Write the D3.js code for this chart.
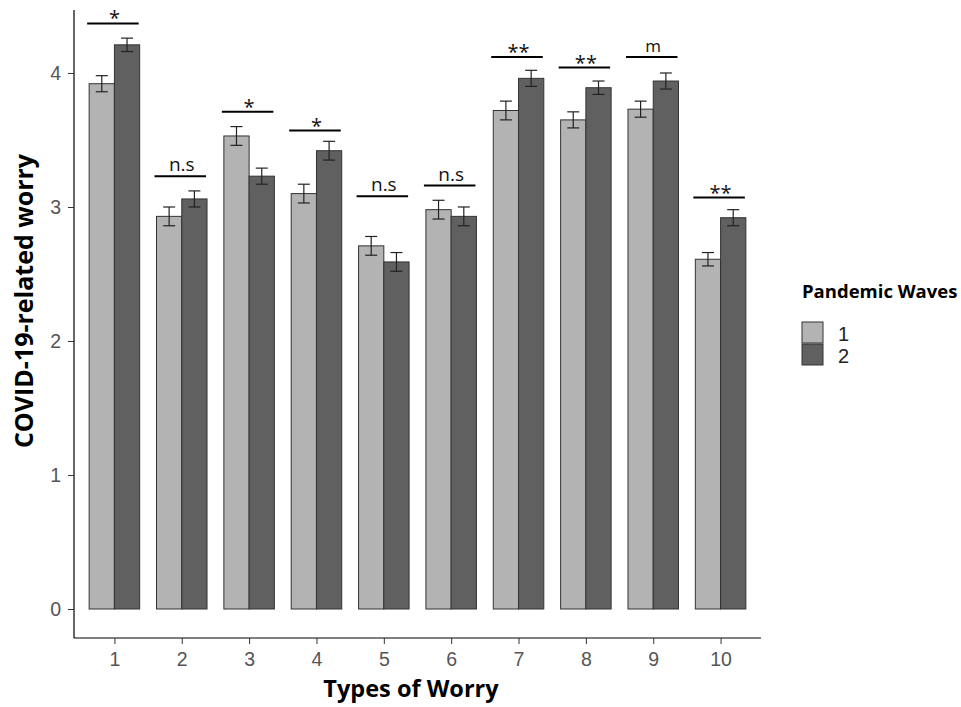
<!DOCTYPE html>
<html>
<head>
<meta charset="utf-8">
<title>COVID-19-related worry</title>
<script src="https://d3js.org/d3.v7.min.js"></script>
<style>
  body { margin: 0; background: #fff; }
</style>
</head>
<body>
<div id="chart"></div>
<script>
  // data
  const categories = ["1", "2", "3", "4", "5", "6", "7", "8", "9", "10"];
  const waves = ["1", "2"];
  const wave1 = [3.92, 2.93, 3.53, 3.10, 2.71, 2.98, 3.72, 3.65, 3.73, 2.61];
  const wave2 = [4.21, 3.06, 3.23, 3.42, 2.59, 2.93, 3.96, 3.89, 3.94, 2.92];
  const err1 = [0.06, 0.07, 0.07, 0.07, 0.07, 0.07, 0.07, 0.06, 0.06, 0.05];
  const err2 = [0.05, 0.06, 0.06, 0.07, 0.07, 0.07, 0.06, 0.05, 0.06, 0.06];
  const sigLabel = ["*", "n.s", "*", "*", "n.s", "n.s", "**", "**", "m", "**"];
  const sigHeight = [4.37, 3.23, 3.71, 3.57, 3.08, 3.16, 4.12, 4.04, 4.12, 3.07];
  const yTicks = [0, 1, 2, 3, 4];

  const colors = { "1": "#b3b3b3", "2": "#606060" };

  const W = 961, H = 707;
  const margin = { top: 10, right: 200, bottom: 69, left: 74 };
  const width = W - margin.left - margin.right;   // 687
  const height = H - margin.top - margin.bottom;  // 628

  const svg = d3.select("#chart").append("svg")
    .attr("width", W)
    .attr("height", H);

  const g = svg.append("g")
    .attr("transform", `translate(${margin.left},${margin.top})`);

  // scales
  const x = d3.scalePoint()
    .domain(categories)
    .range([0, width])
    .padding(0.6);

  const step = x.step();
  const barW = step * 0.375;

  const y = d3.scaleLinear()
    .domain([0, 4.47])
    .range([599, 0]);

  const rows = categories.map((c, i) => ({
    cat: c,
    vals: [
      { wave: "1", v: wave1[i], e: err1[i] },
      { wave: "2", v: wave2[i], e: err2[i] }
    ],
    sig: sigLabel[i],
    sh: sigHeight[i]
  }));

  // bars
  const grp = g.selectAll(".grp")
    .data(rows)
    .enter().append("g")
    .attr("class", "grp")
    .attr("transform", d => `translate(${x(d.cat)},0)`);

  grp.selectAll("rect")
    .data(d => d.vals)
    .enter().append("rect")
    .attr("x", (d, i) => i === 0 ? -barW : 0)
    .attr("y", d => y(d.v))
    .attr("width", barW)
    .attr("height", d => y(0) - y(d.v))
    .attr("fill", d => colors[d.wave])
    .attr("stroke", "#333")
    .attr("stroke-width", 1);

  // error bars
  const eb = grp.selectAll(".eb")
    .data(d => d.vals)
    .enter().append("g")
    .attr("class", "eb")
    .attr("transform", (d, i) => `translate(${i === 0 ? -barW / 2 : barW / 2},0)`)
    .attr("stroke", "#222")
    .attr("stroke-width", 1.2);

  eb.append("line")
    .attr("y1", d => y(d.v - d.e)).attr("y2", d => y(d.v + d.e));
  eb.append("line")
    .attr("x1", -6).attr("x2", 6)
    .attr("y1", d => y(d.v + d.e)).attr("y2", d => y(d.v + d.e));
  eb.append("line")
    .attr("x1", -6).attr("x2", 6)
    .attr("y1", d => y(d.v - d.e)).attr("y2", d => y(d.v - d.e));

  // significance lines
  grp.append("line")
    .attr("x1", -barW - 2).attr("x2", barW - 1)
    .attr("y1", d => y(d.sh)).attr("y2", d => y(d.sh))
    .attr("stroke", "#000")
    .attr("stroke-width", 2);

  const sigSize = s => s.includes("*") ? 20 : (s === "m" ? 17 : 19);
  grp.append("text")
    .attr("x", 0)
    .attr("y", d => y(d.sh) - (d.sig.includes("*") ? -2 : 5))
    .attr("text-anchor", "middle")
    .style("font-family", "'Open Sans', 'DejaVu Sans', sans-serif")
    .style("font-size", d => sigSize(d.sig) + "px")
    .style("fill", "#111")
    .text(d => d.sig);

  // axes
  const yAxis = g.append("g")
    .call(d3.axisLeft(y).tickValues(yTicks).tickSize(6).tickFormat(d3.format("d")));
  yAxis.select(".domain").attr("d", `M0,0V${height}`).attr("stroke", "#000").attr("stroke-width", 1.2);
  yAxis.selectAll(".tick line").attr("stroke", "#333");
  yAxis.selectAll(".tick text")
    .attr("x", -13)
    .style("font-family", "'Liberation Sans', Arial, sans-serif")
    .style("font-size", "19.5px")
    .style("fill", "#555");

  const xAxis = g.append("g")
    .attr("transform", `translate(0,${height})`)
    .call(d3.axisBottom(x).tickSize(6));
  xAxis.select(".domain").attr("d", `M0,0H${width}`).attr("stroke", "#000").attr("stroke-width", 1.2);
  xAxis.selectAll(".tick line").attr("stroke", "#333");
  xAxis.selectAll(".tick text")
    .attr("y", 14)
    .style("font-family", "'Liberation Sans', Arial, sans-serif")
    .style("font-size", "19.5px")
    .style("fill", "#555");

  // axis titles
  svg.append("text")
    .attr("x", 411)
    .attr("y", 697)
    .attr("text-anchor", "middle")
    .style("font-family", "'Open Sans', 'DejaVu Sans', sans-serif")
    .style("font-weight", "bold")
    .style("font-size", "23.5px")
    .text("Types of Worry");

  svg.append("text")
    .attr("transform", "translate(33,301) rotate(-90)")
    .attr("text-anchor", "middle")
    .style("font-family", "'Open Sans', 'DejaVu Sans', sans-serif")
    .style("font-weight", "bold")
    .style("font-size", "25px")
    .text("COVID-19-related worry");

  // legend
  const legend = svg.append("g")
    .attr("transform", "translate(802,286)");

  legend.append("text")
    .attr("x", 0)
    .attr("y", 12)
    .style("font-family", "'Open Sans', 'DejaVu Sans', sans-serif")
    .style("font-weight", "bold")
    .style("font-size", "18.5px")
    .text("Pandemic Waves");

  const key = legend.selectAll(".key")
    .data(waves)
    .enter().append("g")
    .attr("class", "key")
    .attr("transform", (d, i) => `translate(0,${36 + i * 22})`);

  key.append("rect")
    .attr("width", 21)
    .attr("height", 21)
    .attr("fill", d => colors[d])
    .attr("stroke", "#333");

  key.append("text")
    .attr("x", 36)
    .attr("y", 19)
    .style("font-family", "'Liberation Sans', Arial, sans-serif")
    .style("font-size", "20px")
    .style("fill", "#222")
    .text(d => d);
</script>
</body>
</html>
